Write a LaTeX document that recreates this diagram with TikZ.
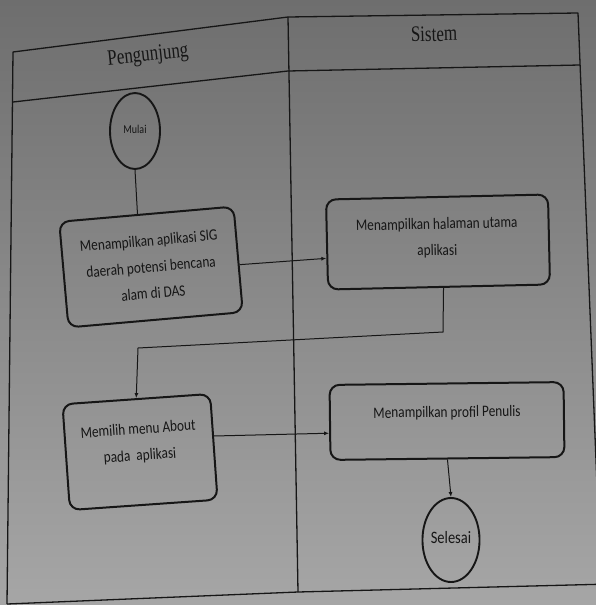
\documentclass[tikz,border=0pt]{standalone}
\usepackage{fontspec}
\setmainfont{Carlito}
\newfontfamily\headfont{Liberation Serif}
\usepackage{graphicx}
\usetikzlibrary{arrows.meta,shapes.geometric,calc}

\definecolor{ink}{RGB}{22,22,22}
\definecolor{paperTop}{RGB}{110,110,110}
\definecolor{paperBot}{RGB}{166,166,166}

% a centred stack of lines, stretched a little in height
\newcommand\tallbox[2][1.2]{\scalebox{1}[#1]{\begin{tabular}{@{}c@{}}#2\end{tabular}}}

\begin{document}
\begin{tikzpicture}[x=1pt,y=-1pt,
  lane/.style={draw=ink,line width=1.3pt,line join=round},
  actbox/.style={draw=ink,line width=2pt,rounded corners=10pt,inner sep=0pt},
  acttext/.style={text=ink,font=\fontsize{13.3}{22}\selectfont,inner sep=0pt},
  term/.style={ellipse,draw=ink,line width=1.9pt,inner sep=0pt,text=ink},
  flow/.style={draw=ink,line width=1pt},
  flowarr/.style={flow,-{Latex[length=5pt,width=4pt]}},
  head/.style={text=ink,font=\headfont\fontsize{17}{20}\selectfont,inner sep=0pt}]

\useasboundingbox (0,0) rectangle (596,605);
\shade[top color=paperTop,bottom color=paperBot] (0,0) rectangle (596,605);

% swimlane frame (the sheet is slightly warped)
\coordinate (tl) at (13,52);
\coordinate (td) at (288,17);
\coordinate (tr) at (578,13);
\coordinate (hl) at (13,102);
\coordinate (hd) at (288,71);
\coordinate (hr) at (580,65);
\coordinate (bl) at (7,604);
\coordinate (bd) at (298,592);
\coordinate (br) at (610,584);
\coordinate (rb) at (601,585);
\begin{scope}
  \clip (0,0) rectangle (596,605);
  \draw[lane] (hl) -- (hd) -- (hr);
  \draw[lane] (bl) -- (tl) -- (td) -- (tr) -- (rb);
  \draw[lane] (bl) -- (bd) -- (br);
  \draw[lane] (td) -- (bd);
\end{scope}

% lane titles
\node[head,rotate=6] (h1) at (148,56) {\scalebox{1}[1.3]{Pengunjung}};
\node[head,rotate=1.2] (h2) at (434,34) {\scalebox{1}[1.3]{Sistem}};

% start / end
\node[term,minimum width=50pt,minimum height=76pt] (start) at (135,131)
  {\tallbox{\fontsize{10}{12}\selectfont Mulai}};
\node[term,minimum width=54pt,minimum height=84pt] (finish) at (451,540)
  {\tallbox{\fontsize{14.5}{16}\selectfont Selesai}};

% activities
\node[actbox,minimum width=175pt,minimum height=106pt,rotate=5] (b1) at (151,267) {};
\node[acttext,rotate=5] (t1) at (151,267)
  {\tallbox{Menampilkan aplikasi SIG\\daerah potensi bencana\\alam di DAS}};

\node[actbox,minimum width=222pt,minimum height=90pt,rotate=1.3] (b2) at (438,242) {};
\node[acttext,rotate=1.3] (t2) at (437,237)
  {\tallbox{Menampilkan halaman utama\\aplikasi}};

\node[actbox,minimum width=148pt,minimum height=106pt,rotate=4] (b3) at (140,452) {};
\node[acttext,rotate=4] (t3) at (139,442)
  {\tallbox{Memilih menu About\\pada~ aplikasi}};

\node[actbox,minimum width=234pt,minimum height=75pt,rotate=0.7] (b4) at (447,421) {};
\node[acttext,rotate=0.7] (t4) at (447,412)
  {\tallbox{Menampilkan profil Penulis}};

% control flow
\coordinate (k1) at (443,332);
\coordinate (k2) at (138,348);
\draw[flow] (start.south) -- ($(b1.north west)!0.45!(b1.north east)$);
\draw[flowarr] ($(b1.north east)!0.55!(b1.south east)$) -- ($(b2.north west)!0.65!(b2.south west)$);
\draw[flowarr] ($(b2.south west)!0.52!(b2.south east)$) -- (k1) -- (k2) -- (b3.north);
\draw[flowarr] ($(b3.north east)!0.4!(b3.south east)$) -- ($(b4.north west)!0.64!(b4.south west)$);
\draw[flowarr] (b4.south) -- (finish.north);
\end{tikzpicture}
\end{document}
